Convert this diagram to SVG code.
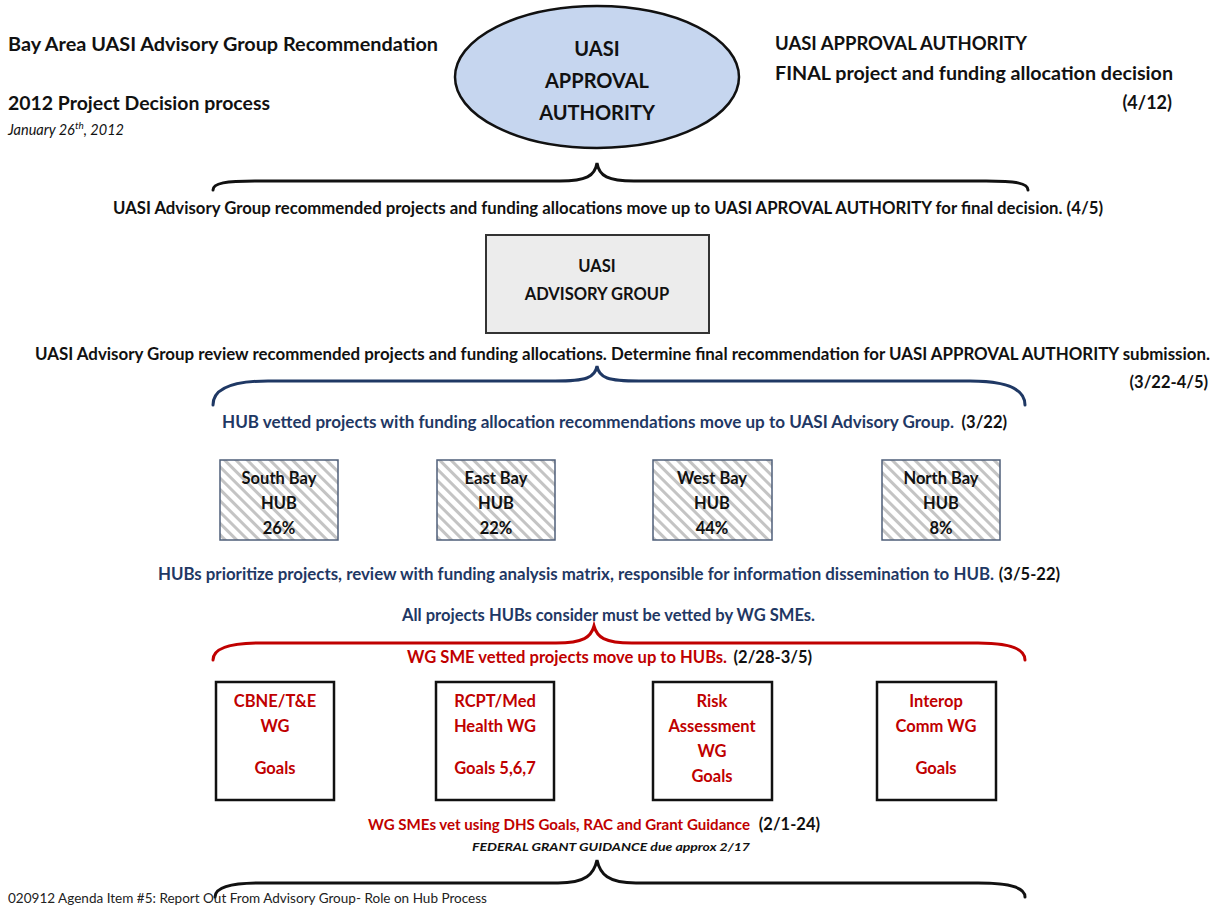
<svg xmlns="http://www.w3.org/2000/svg" width="1215" height="907" viewBox="0 0 1215 907">
<defs>
<pattern id="hatch" width="8" height="8" patternUnits="userSpaceOnUse" patternTransform="rotate(-45)">
<rect width="8" height="8" fill="#ffffff"/>
<rect width="3" height="8" fill="#c4c4c4"/>
</pattern>
<style>
text{font-family:"Lato","Open Sans","Liberation Sans",sans-serif;font-weight:bold;}
.t18{font-size:18px;fill:#111;}
.t15{font-size:16.5px;fill:#111;}
.navy{fill:#1f3864;}
.red{fill:#c00000;}
.blk{fill:#111;}
.node{font-size:16.5px;text-anchor:middle;}
.brace{fill:none;stroke-width:3;stroke-linecap:round;}
.hub{fill:url(#hatch);stroke:#4f5f7a;stroke-width:1.5;}
.wg{fill:#fff;stroke:#111;stroke-width:2.5;}
</style>
</defs>
<rect width="1215" height="907" fill="#fff"/>

<g id="header">
<text class="t18" x="8" y="51" textLength="430" lengthAdjust="spacingAndGlyphs">Bay Area UASI Advisory Group Recommendation</text>
<text class="t18" x="8" y="110" textLength="262" lengthAdjust="spacingAndGlyphs">2012 Project Decision process</text>
<text x="8" y="135" style="font-weight:normal;font-style:italic;font-size:14.5px;fill:#111">January 26<tspan dy="-6" font-size="10">th</tspan><tspan dy="6">, 2012</tspan></text>
<text class="t18" x="775" y="50" textLength="252" lengthAdjust="spacingAndGlyphs">UASI APPROVAL AUTHORITY</text>
<text class="t18" x="775" y="80" textLength="398" lengthAdjust="spacingAndGlyphs">FINAL project and funding allocation decision</text>
<text class="t18" x="1172" y="109" text-anchor="end">(4/12)</text>
</g>

<g id="approval-authority">
<ellipse cx="597" cy="77" rx="142" ry="71" fill="#c6d6ef" stroke="#111" stroke-width="2.5"/>
<text class="node blk" x="597" y="56" style="font-size:20px">UASI</text>
<text class="node blk" x="597" y="88" style="font-size:20px">APPROVAL</text>
<text class="node blk" x="597" y="120" style="font-size:20px">AUTHORITY</text>
</g>

<g id="connectors">
<path class="brace" stroke="#111" d="M213,190 C213,183 226,181 255,181 L560,181 C586,181 595,176 597,163 C599,176 608,181 634,181 L986,181 C1015,181 1028,183 1028,190"/>
<path class="brace" stroke="#1f3864" d="M213,405 C213,390 228,381 268,381 L555,381 C586,381 595,378 597,366 C599,378 608,381 639,381 L970,381 C1010,381 1025,390 1025,405"/>
<path class="brace" stroke="#c00000" d="M213,660 C213,650 225,643 260,643 L556,643 C584,643 591,637 594,626 C597,637 604,643 632,643 L978,643 C1013,643 1025,650 1025,660"/>
<path class="brace" stroke="#111" d="M215,897 C215,888 228,883 262,883 L558,883 C586,883 594,874 597,860 C600,874 608,883 636,883 L978,883 C1012,883 1025,888 1025,897"/>
</g>

<g id="captions">
<text class="t15" x="113" y="214" textLength="990" lengthAdjust="spacingAndGlyphs">UASI Advisory Group recommended projects and funding allocations move up to UASI  APROVAL  AUTHORITY for final decision.  (4/5)</text>
<text class="t15" x="35" y="360" textLength="1175" lengthAdjust="spacingAndGlyphs">UASI Advisory Group review recommended projects and funding allocations.  Determine final recommendation for UASI  APPROVAL  AUTHORITY submission.</text>
<text class="t15" x="1208" y="388" text-anchor="end">(3/22-4/5)</text>
<text class="t15 navy" x="222" y="428" textLength="732" lengthAdjust="spacingAndGlyphs">HUB vetted projects with funding allocation recommendations move up to UASI Advisory Group.</text>
<text class="t15 blk" x="1007" y="428" text-anchor="end">(3/22)</text>
<text class="t15 navy" x="158" y="580" textLength="836" lengthAdjust="spacingAndGlyphs">HUBs prioritize projects, review with funding analysis matrix, responsible for information dissemination to HUB.</text>
<text class="t15 blk" x="1060" y="580" text-anchor="end">(3/5-22)</text>
<text class="t15 navy" x="402" y="621" textLength="413" lengthAdjust="spacingAndGlyphs">All projects HUBs consider must be vetted by WG SMEs.</text>
<text class="t15 red" x="407" y="663" textLength="320" lengthAdjust="spacingAndGlyphs">WG SME vetted projects move up to HUBs.</text>
<text class="t15 blk" x="812" y="663" text-anchor="end">(2/28-3/5)</text>
<text class="red" x="368" y="830" textLength="382" lengthAdjust="spacingAndGlyphs" style="font-size:15px">WG SMEs vet using DHS Goals, RAC and Grant Guidance</text>
<text class="t15 blk" x="820" y="830" text-anchor="end">(2/1-24)</text>
<text x="472" y="851" textLength="278" lengthAdjust="spacingAndGlyphs" style="font-size:12px;font-style:italic;fill:#111">FEDERAL GRANT GUIDANCE due approx 2/17</text>
<text x="8" y="903" textLength="479" lengthAdjust="spacingAndGlyphs" style="font-size:13px;font-weight:normal;fill:#222">020912 Agenda Item #5: Report Out From Advisory Group- Role on Hub Process</text>
</g>

<g id="advisory-group">
<rect x="486" y="235" width="223" height="98" fill="#ececec" stroke="#333" stroke-width="2"/>
<text class="node blk" x="597" y="272">UASI</text>
<text class="node blk" x="597" y="300">ADVISORY GROUP</text>
</g>

<g id="hub-south-bay">
<rect class="hub" x="220" y="460" width="118" height="80"/>
<text class="node blk" x="279" y="484">South Bay</text>
<text class="node blk" x="279" y="509">HUB</text>
<text class="node blk" x="279" y="534">26%</text>
</g>
<g id="hub-east-bay">
<rect class="hub" x="437" y="460" width="118" height="80"/>
<text class="node blk" x="496" y="484">East Bay</text>
<text class="node blk" x="496" y="509">HUB</text>
<text class="node blk" x="496" y="534">22%</text>
</g>
<g id="hub-west-bay">
<rect class="hub" x="653" y="460" width="119" height="80"/>
<text class="node blk" x="712" y="484">West Bay</text>
<text class="node blk" x="712" y="509">HUB</text>
<text class="node blk" x="712" y="534">44%</text>
</g>
<g id="hub-north-bay">
<rect class="hub" x="882" y="460" width="118" height="80"/>
<text class="node blk" x="941" y="484">North Bay</text>
<text class="node blk" x="941" y="509">HUB</text>
<text class="node blk" x="941" y="534">8%</text>
</g>

<g id="wg-cbne">
<rect class="wg" x="216" y="682" width="118" height="118"/>
<text class="node red" x="275" y="707">CBNE/T&amp;E</text>
<text class="node red" x="275" y="732">WG</text>
<text class="node red" x="275" y="774">Goals</text>
</g>
<g id="wg-rcpt">
<rect class="wg" x="436" y="682" width="118" height="118"/>
<text class="node red" x="495" y="707">RCPT/Med</text>
<text class="node red" x="495" y="732">Health WG</text>
<text class="node red" x="495" y="774">Goals 5,6,7</text>
</g>
<g id="wg-risk">
<rect class="wg" x="653" y="682" width="119" height="118"/>
<text class="node red" x="712" y="707">Risk</text>
<text class="node red" x="712" y="732">Assessment</text>
<text class="node red" x="712" y="757">WG</text>
<text class="node red" x="712" y="782">Goals</text>
</g>
<g id="wg-interop">
<rect class="wg" x="877" y="682" width="119" height="118"/>
<text class="node red" x="936" y="707">Interop</text>
<text class="node red" x="936" y="732">Comm WG</text>
<text class="node red" x="936" y="774">Goals</text>
</g>
</svg>
